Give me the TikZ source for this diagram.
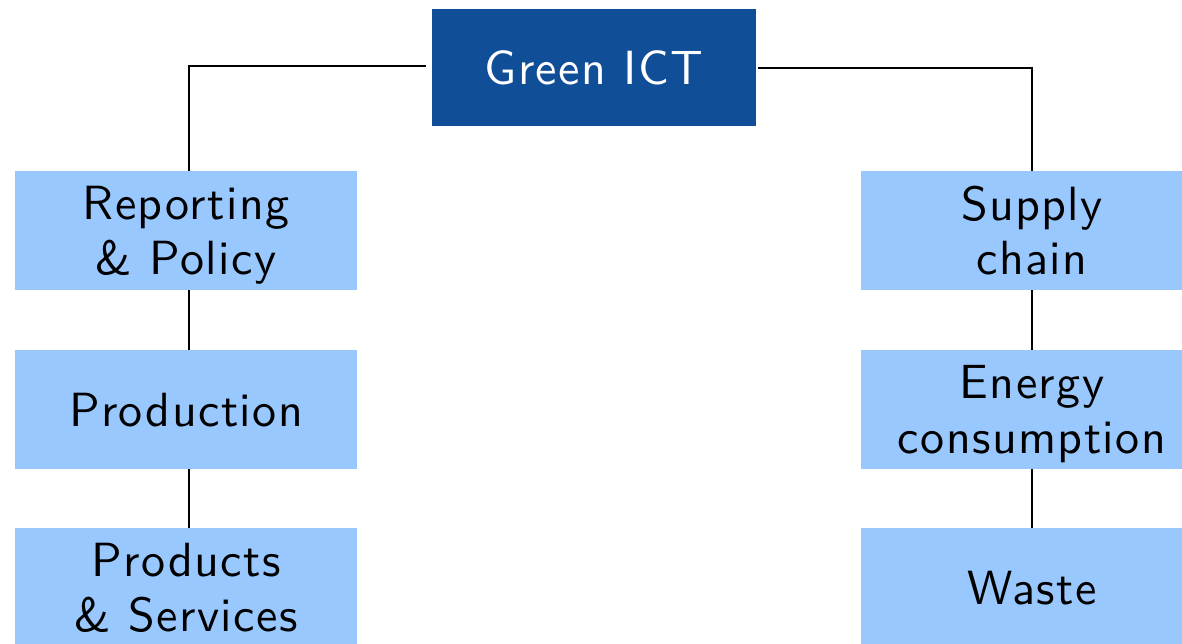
\documentclass[tikz,border=0pt]{standalone}
\usepackage{fontspec}
\newfontfamily\boxfont{lmsans10-regular.otf}[LetterSpace=3]
\definecolor{darkbox}{RGB}{16,78,152}
\definecolor{lightbox}{RGB}{153,200,255}
\begin{document}
\begin{tikzpicture}[x=1pt,y=-1pt,
  boxbase/.style={inner sep=0pt,outer sep=0pt,align=center,text depth=0pt,font=\boxfont\fontsize{48}{54.5}\selectfont},
  topbox/.style={boxbase,fill=darkbox,text=white,minimum width=324pt,minimum height=117pt},
  subbox/.style={boxbase,fill=lightbox,text=black,minimum width=342pt,minimum height=119pt},
  conn/.style={draw=black,line width=2pt}]
\useasboundingbox (0,0) rectangle (1182,643);
\node[topbox] (g) at (594,67.5) {Green ICT};
\node[subbox] (rp) at (186,230.5) {Reporting\\\& Policy};
\node[subbox] (pr) at (186,409.5) {Production};
\node[subbox] (ps) at (186,587.5) {Products\\\& Services};
\node[subbox] (sc) at (1032,230.5) {Supply\\chain};
\node[subbox] (ec) at (1032,409.5) {Energy\\consumption};
\node[subbox] (ws) at (1032,587.5) {Waste};
\draw[conn,shorten <=6pt] ([yshift=2pt]g.west) -| ([xshift=3pt]rp.north);
\draw[conn,shorten <=2pt] (g.east) -| (sc.north);
\draw[conn] ([xshift=3pt]rp.south) -- ([xshift=3pt]pr.north);
\draw[conn] ([xshift=3pt]pr.south) -- ([xshift=3pt]ps.north);
\draw[conn] (sc.south) -- (ec.north);
\draw[conn] (ec.south) -- (ws.north);
\end{tikzpicture}
\end{document}
